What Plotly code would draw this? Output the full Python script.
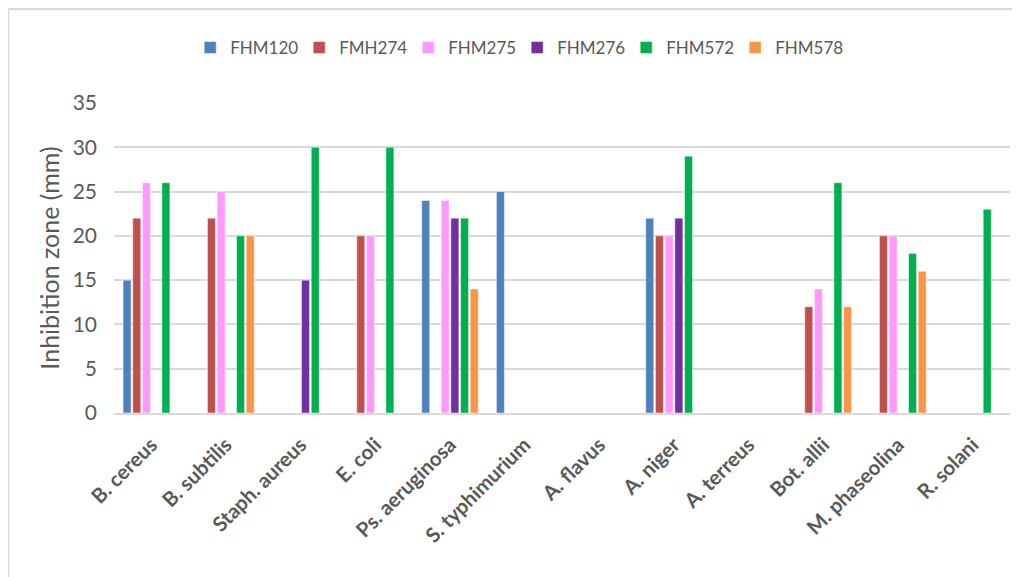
import plotly.graph_objects as go

categories = ["B. cereus", "B. subtilis", "Staph. aureus", "E. coli", "Ps. aeruginosa",
              "S. typhimurium", "A. flavus", "A. niger", "A. terreus", "Bot. allii",
              "M. phaseolina", "R. solani"]

FHM120 = [15, 0, 0, 0, 24, 25, 0, 22, 0, 0, 0, 0]
FMH274 = [22, 22, 0, 20, 0, 0, 0, 20, 0, 12, 20, 0]
FHM275 = [26, 25, 0, 20, 24, 0, 0, 20, 0, 14, 20, 0]
FHM276 = [0, 0, 15, 0, 22, 0, 0, 22, 0, 0, 0, 0]
FHM572 = [26, 20, 30, 30, 22, 0, 0, 29, 0, 26, 18, 23]
FHM578 = [0, 20, 0, 0, 14, 0, 0, 0, 0, 12, 16, 0]

series_names = ["FHM120", "FMH274", "FHM275", "FHM276", "FHM572", "FHM578"]
series_values = [FHM120, FMH274, FHM275, FHM276, FHM572, FHM578]
colors = ["#4F81BD", "#C0504D", "#FF99FF", "#7030A0", "#00B050", "#F79646"]

fig = go.Figure()
for name, vals, c in zip(series_names, series_values, colors):
    fig.add_trace(go.Bar(
        x=categories, y=vals, name=name,
        marker=dict(color=c, line=dict(color="rgba(255,255,255,0.6)", width=0.8)),
    ))

font_family = "Lato, 'Open Sans', sans-serif"
gray = "#595959"

# page body has an 8px margin, so figure coordinates are screen - 8
W, H = 1012, 569
L, R, T, B = 106, 10, 95, 164
PW, PH = W - L - R, H - T - B

def px_x(x):
    return (x - L) / PW

def px_y(y):
    return (H - B - y) / PH

fig.update_layout(
    width=W, height=H,
    barmode="group", bargap=0.22, bargroupgap=0.175,
    paper_bgcolor="white", plot_bgcolor="white",
    margin=dict(l=L, r=R, t=T, b=B, autoexpand=False),
    font=dict(family=font_family, color=gray),
    legend=dict(orientation="h", x=0.45, xanchor="center",
                yref="container", y=1 - 40 / H, yanchor="middle",
                font=dict(size=17, color=gray), traceorder="normal",
                itemwidth=30, entrywidth=64, entrywidthmode="pixels"),
    xaxis=dict(tickangle=-45, automargin=False, ticklabelstandoff=10,
               tickfont=dict(size=20.5, color=gray, family=font_family, weight="bold"),
               showgrid=False, showline=True, linecolor="#D9D9D9", linewidth=1.5, ticks=""),
    yaxis=dict(range=[0, 35], dtick=5, automargin=False,
               tickfont=dict(size=21, color=gray),
               gridcolor="#D9D9D9", gridwidth=1.5, zeroline=False, ticks="",
               ticklabelstandoff=16,
               title=dict(text="Inhibition zone (mm)", font=dict(size=25, color=gray), standoff=5)),
    shapes=[
        dict(type="line", xref="paper", yref="paper",
             x0=px_x(0), x1=px_x(1030), y0=px_y(1), y1=px_y(1),
             line=dict(color="#D9D9D9", width=2.5)),
        dict(type="line", xref="paper", yref="paper",
             x0=px_x(0), x1=px_x(0), y0=px_y(1), y1=px_y(600),
             line=dict(color="#D9D9D9", width=2.5)),
    ],
)

fig.write_html("out.html")
